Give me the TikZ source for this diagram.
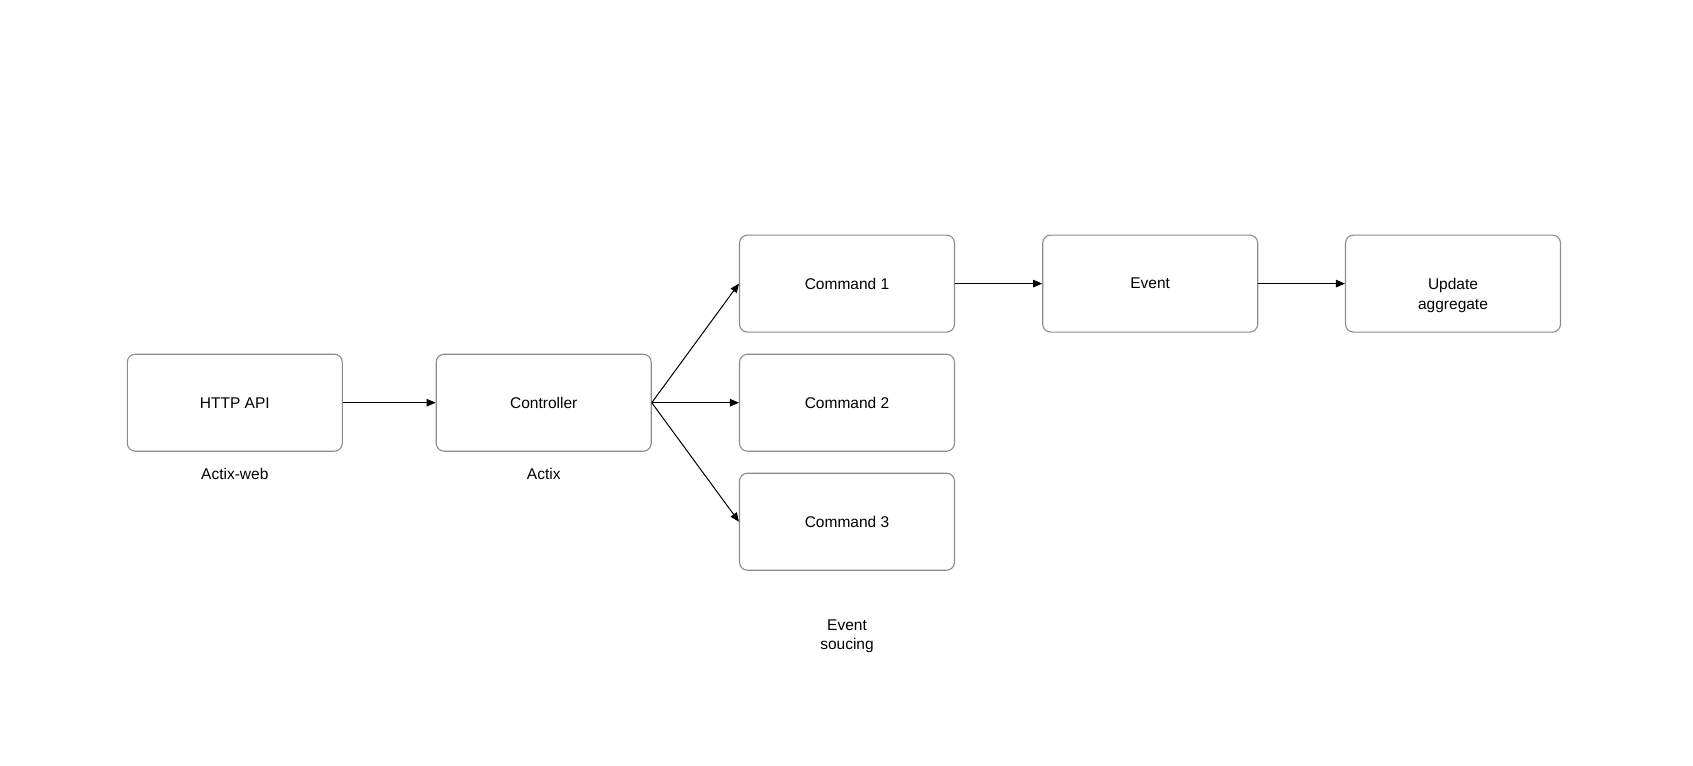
\documentclass[tikz,border=0pt]{standalone}
\usepackage{fontspec}
\setmainfont{Liberation Sans}
\usetikzlibrary{arrows.meta}
\begin{document}
\begin{tikzpicture}[x=1pt,y=-1pt,
  box/.style={draw=black!45,line width=1.1pt,rounded corners=8pt,
    minimum width=215pt,minimum height=97pt,inner sep=0pt,
    align=center,font=\fontsize{15.5}{19.5}\selectfont},
  lbl/.style={align=center,font=\fontsize{15.5}{19.5}\selectfont},
  flow/.style={line width=1pt,draw=black,-{Triangle[length=9pt,width=7.5pt]}}]
  \useasboundingbox (0,0) rectangle (1693,765);
  % boxes
  \node[box] (api)  at (234.8,402.7) {HTTP API};
  \node[box] (ctl)  at (543.7,402.7) {Controller};
  \node[box] (c1)   at (847,283.6) {Command 1};
  \node[box] (c2)   at (847,402.7) {Command 2};
  \node[box] (c3)   at (847,521.7) {Command 3};
  \node[box] (ev)   at (1150.2,283.6) {Event};
  \node[box] (upd)  at (1453,283.6) {};
  % two-line text of the last box sits a little below its centre
  \node[lbl] (updt) at (1453,295.6) {Update\\aggregate};
  % captions
  \node[lbl] (lapi) at (234.8,474) {Actix-web};
  \node[lbl] (lctl) at (543.7,474) {Actix};
  \node[lbl] (les)  at (847,636.5) {Event\\soucing};
  % connectors
  \draw[flow] (api.east) -- (ctl.west);
  \draw[flow] (ctl.east) -- (c1.west);
  \draw[flow] (ctl.east) -- (c2.west);
  \draw[flow] (ctl.east) -- (c3.west);
  \draw[flow] (c1.east) -- (ev.west);
  \draw[flow] (ev.east) -- (upd.west);
\end{tikzpicture}
\end{document}
